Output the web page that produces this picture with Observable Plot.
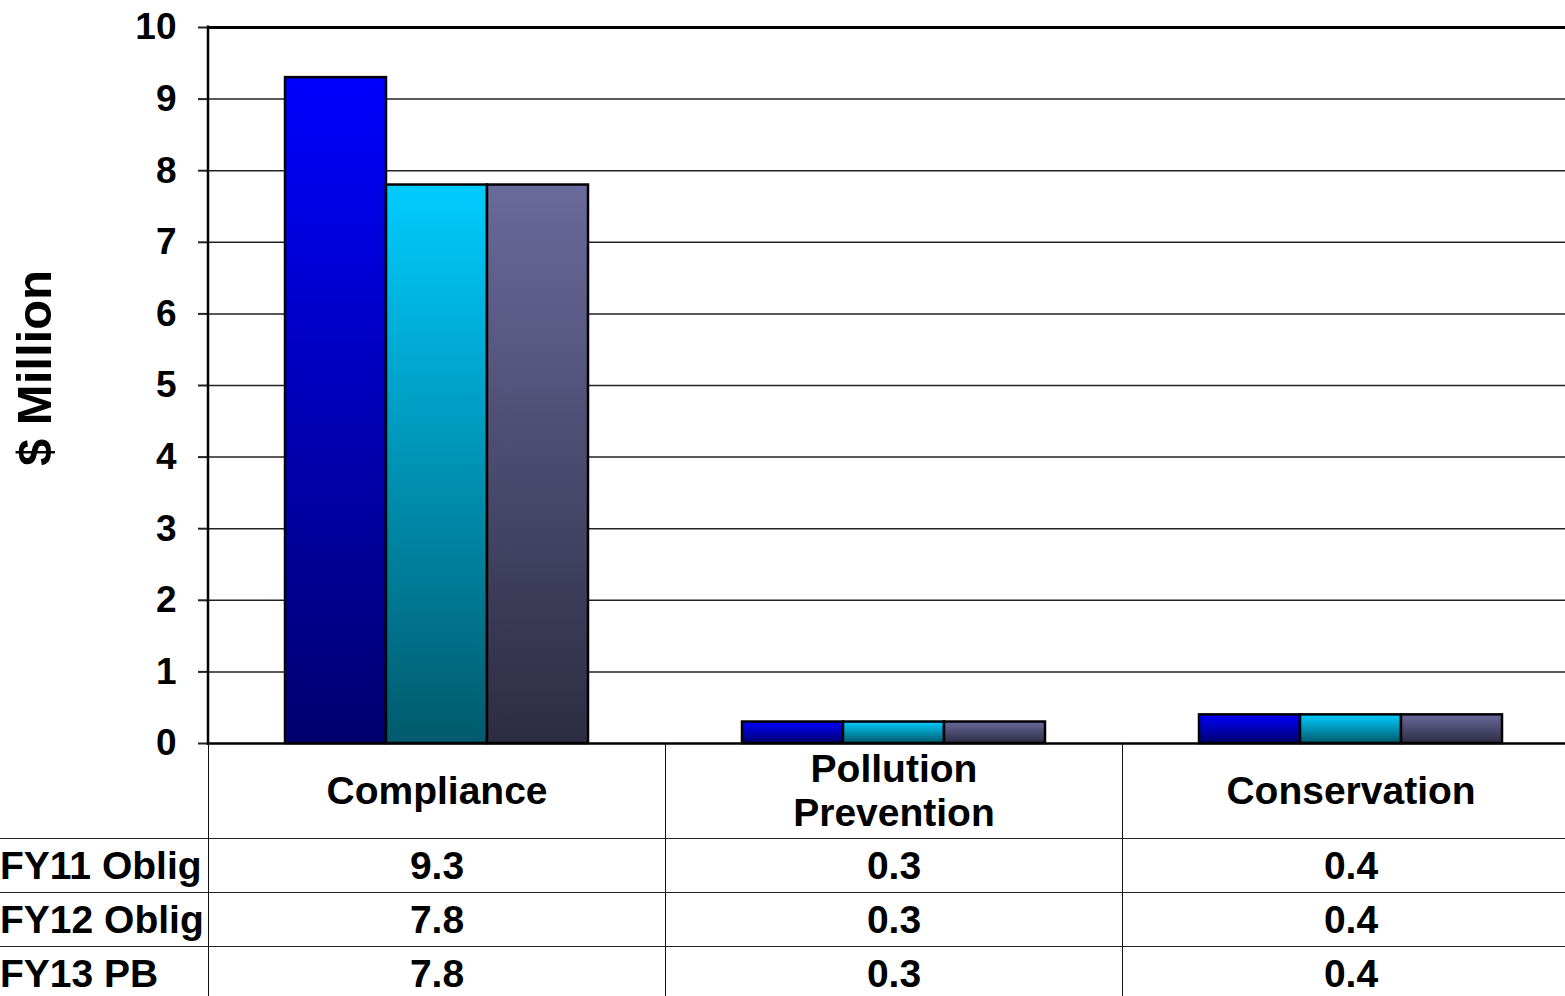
<!DOCTYPE html>
<html>
<head>
<meta charset="utf-8">
<script src="https://cdn.jsdelivr.net/npm/d3@7"></script>
<script src="https://cdn.jsdelivr.net/npm/@observablehq/plot@0.6"></script>
<style>
  html, body { margin: 0; padding: 0; background: #fff; }
  #wrap { position: relative; width: 1565px; height: 996px; overflow: hidden; background: #fff;
          font-family: "Liberation Sans", Arial, sans-serif; font-weight: bold; color: #000; }
  #ytitle { position: absolute; left: 34px; top: 368px; transform: translate(-50%, -50%) rotate(-90deg);
            font-size: 49px; white-space: nowrap; }
  #chart { position: absolute; left: 0; top: 0; }
  #table { position: absolute; left: 0; top: 743px; display: grid;
           grid-template-columns: 208px 457px 457px 457px; grid-template-rows: 95px 54px 54px 54px; }
  .cell { box-sizing: border-box; display: flex; align-items: center; justify-content: center;
          font-size: 39px; text-align: center; line-height: 44px; }
  .lab { justify-content: flex-start; text-align: left; }
  .bt { border-top: 1.5px solid #222; }
  .bl { border-left: 1.5px solid #111; }
</style>
</head>
<body>
<div id="wrap">
  <div id="ytitle">$ Million</div>
  <div id="chart"></div>
  <div id="table"></div>
</div>
<script>
// ---- data ----
const categories = ["Compliance", "Pollution Prevention", "Conservation"];
const categoryLines = [["Compliance"], ["Pollution", "Prevention"], ["Conservation"]];
const series = ["FY11 Oblig", "FY12 Oblig", "FY13 PB"];
const fy11Oblig = [9.3, 0.3, 0.4];
const fy12Oblig = [7.8, 0.3, 0.4];
const fy13PB = [7.8, 0.3, 0.4];
const yTicks = [0, 1, 2, 3, 4, 5, 6, 7, 8, 9, 10];
const gradientStops = [
  ["#0000FF", "#00006E"],
  ["#00CCFF", "#005A6C"],
  ["#6A6A9C", "#2C2C42"]
];

const seriesValues = [fy11Oblig, fy12Oblig, fy13PB];
const rows = [];
series.forEach((s, si) => categories.forEach((c, ci) => rows.push({series: s, si, category: c, value: seriesValues[si][ci]})));

const svg = Plot.plot({
  width: 1579,
  height: 745,
  marginLeft: 208,
  marginRight: 0,
  marginTop: 27,
  marginBottom: 2,
  style: {maxWidth: "none", background: "transparent", overflow: "visible", fontFamily: "Liberation Sans, Arial, sans-serif"},
  fx: {domain: categories, padding: 0, axis: null},
  x: {domain: series, paddingInner: 0, paddingOuter: 0.755, axis: null},
  y: {domain: [0, 10], axis: null},
  color: {type: "identity"},
  marks: [
    Plot.ruleY(yTicks.filter(d => d > 0 && d < 10), {stroke: "#222", strokeWidth: 1.5}),
    Plot.ruleY([10], {stroke: "#000", strokeWidth: 3}),
    Plot.axisY({ticks: yTicks, tickSize: 10, tickPadding: 22, fontSize: 37, fontWeight: "bold", stroke: "#222", strokeWidth: 2, label: null, tickFormat: d => String(d)}),
    Plot.barY(rows, {
      fx: "category", x: "series", y: "value",
      fill: d => `url(#grad${d.si})`,
      stroke: "#000", strokeWidth: 2.5, inset: 0
    }),
    Plot.ruleY([0], {stroke: "#000", strokeWidth: 2.5})
  ]
});

// gradients (object bounding box: bright top, dark bottom)
const sel = d3.select(svg);
const defs = sel.insert("defs", ":first-child");
gradientStops.forEach(([top, bottom], i) => {
  const g = defs.append("linearGradient").attr("id", "grad" + i)
    .attr("x1", 0).attr("y1", 0).attr("x2", 0).attr("y2", 1);
  g.append("stop").attr("offset", "0%").attr("stop-color", top);
  g.append("stop").attr("offset", "100%").attr("stop-color", bottom);
});

// left axis line from the library's scales
const yS = svg.scale("y"), fxS = svg.scale("fx");
const x0 = fxS.apply(categories[0]);
sel.append("line").attr("x1", x0).attr("x2", x0)
  .attr("y1", yS.apply(10) - 1.5).attr("y2", yS.apply(0) + 2)
  .attr("stroke", "#000").attr("stroke-width", 2.5);

document.getElementById("chart").appendChild(svg);

// data table beneath the chart
const table = document.getElementById("table");
function cell(html, cls) {
  const d = document.createElement("div");
  d.className = "cell " + cls;
  d.innerHTML = html;
  table.appendChild(d);
}
cell("", "");
categoryLines.forEach(lines => cell(lines.join("<br>"), "bl"));
series.forEach((s, si) => {
  cell(s, "lab bt");
  categories.forEach((c, ci) => cell(seriesValues[si][ci].toFixed(1), "bt bl"));
});
</script>
</body>
</html>
